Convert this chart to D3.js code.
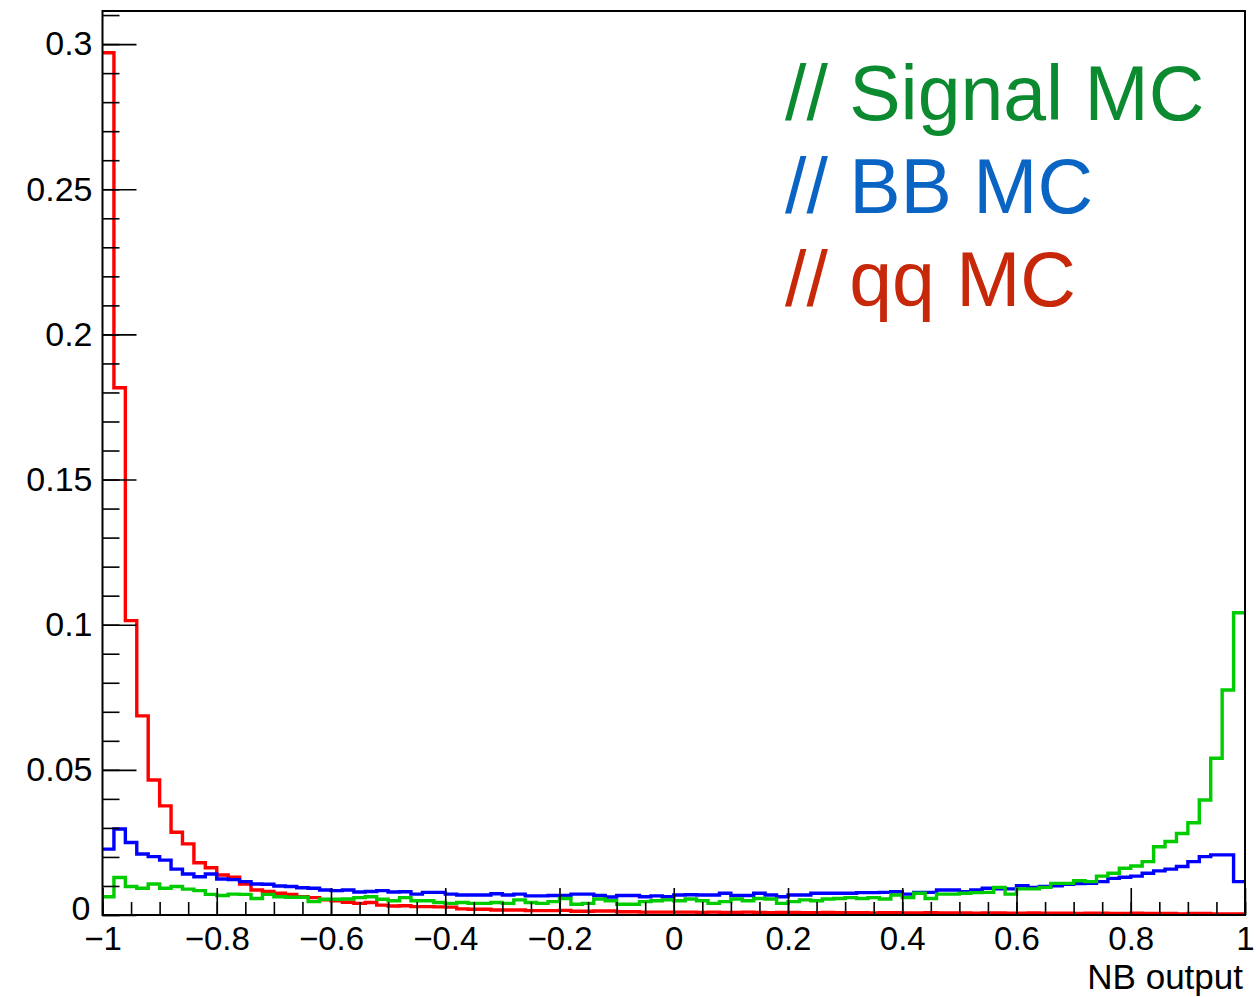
<!DOCTYPE html>
<html>
<head>
<meta charset="utf-8">
<script src="https://cdn.jsdelivr.net/npm/d3@7"></script>
<style>
  html, body { margin: 0; padding: 0; background: #fff; }
  svg { display: block; }
  text { font-family: "Liberation Sans", Arial, Helvetica, sans-serif; }
</style>
</head>
<body>
<svg id="chart" width="1256" height="997"></svg>
<script>
// histogram binning: 100 bins on [-1, 1]
const xMin = -1;
const xMax = 1;
const nBins = 100;

// bin contents (normalised)
const qqMC = [
  0.2970, 0.1816, 0.1014, 0.0686, 0.0465, 0.0376, 0.0285, 0.0245, 0.0180, 0.0163,
  0.0138, 0.0130, 0.0107, 0.0086, 0.0081, 0.0075, 0.0071, 0.0063, 0.0060, 0.0052,
  0.0049, 0.0044, 0.0040, 0.0043, 0.0034, 0.0031, 0.0032, 0.0029, 0.0029, 0.0028,
  0.0027, 0.0021, 0.0020, 0.0020, 0.0017, 0.0017, 0.0017, 0.0015, 0.0015, 0.0015,
  0.0016, 0.0013, 0.0013, 0.0014, 0.0014, 0.0011, 0.0011, 0.0010, 0.0010, 0.0010,
  0.0010, 0.0010, 0.0009, 0.0010, 0.0009, 0.0009, 0.0010, 0.0009, 0.0008, 0.0009,
  0.0009, 0.0008, 0.0008, 0.0009, 0.0008, 0.0008, 0.0008, 0.0007, 0.0008, 0.0008,
  0.0007, 0.0007, 0.0008, 0.0007, 0.0007, 0.0007, 0.0006, 0.0007, 0.0007, 0.0006,
  0.0006, 0.0007, 0.0006, 0.0006, 0.0006, 0.0005, 0.0006, 0.0006, 0.0005, 0.0005,
  0.0006, 0.0005, 0.0005, 0.0005, 0.0004, 0.0005, 0.0005, 0.0004, 0.0004, 0.0004
];

const bbMC = [
  0.0227, 0.0296, 0.0250, 0.0210, 0.0201, 0.0189, 0.0158, 0.0141, 0.0132, 0.0141,
  0.0124, 0.0122, 0.0115, 0.0107, 0.0106, 0.0100, 0.0098, 0.0094, 0.0092, 0.0086,
  0.0084, 0.0086, 0.0079, 0.0081, 0.0084, 0.0079, 0.0080, 0.0072, 0.0078, 0.0078,
  0.0072, 0.0069, 0.0069, 0.0069, 0.0073, 0.0069, 0.0072, 0.0066, 0.0066, 0.0067,
  0.0067, 0.0072, 0.0072, 0.0067, 0.0062, 0.0067, 0.0067, 0.0063, 0.0066, 0.0063,
  0.0069, 0.0070, 0.0069, 0.0069, 0.0075, 0.0067, 0.0067, 0.0075, 0.0069, 0.0063,
  0.0069, 0.0069, 0.0075, 0.0075, 0.0075, 0.0075, 0.0077, 0.0077, 0.0078, 0.0080,
  0.0072, 0.0078, 0.0078, 0.0086, 0.0086, 0.0080, 0.0086, 0.0092, 0.0090, 0.0090,
  0.0101, 0.0095, 0.0098, 0.0101, 0.0106, 0.0108, 0.0109, 0.0115, 0.0126, 0.0130,
  0.0134, 0.0144, 0.0152, 0.0158, 0.0167, 0.0184, 0.0201, 0.0207, 0.0207, 0.0115
];

const signalMC = [
  0.0063, 0.0129, 0.0098, 0.0092, 0.0107, 0.0092, 0.0098, 0.0089, 0.0084, 0.0071,
  0.0067, 0.0072, 0.0071, 0.0057, 0.0071, 0.0063, 0.0061, 0.0061, 0.0046, 0.0054,
  0.0054, 0.0055, 0.0060, 0.0063, 0.0054, 0.0049, 0.0060, 0.0049, 0.0049, 0.0043,
  0.0040, 0.0043, 0.0040, 0.0040, 0.0043, 0.0040, 0.0052, 0.0043, 0.0040, 0.0046,
  0.0057, 0.0037, 0.0040, 0.0055, 0.0049, 0.0037, 0.0037, 0.0046, 0.0049, 0.0052,
  0.0049, 0.0055, 0.0049, 0.0040, 0.0046, 0.0055, 0.0049, 0.0057, 0.0055, 0.0040,
  0.0046, 0.0052, 0.0049, 0.0055, 0.0057, 0.0060, 0.0057, 0.0060, 0.0055, 0.0069,
  0.0060, 0.0075, 0.0057, 0.0072, 0.0072, 0.0075, 0.0077, 0.0078, 0.0095, 0.0072,
  0.0090, 0.0090, 0.0095, 0.0109, 0.0109, 0.0118, 0.0115, 0.0134, 0.0144, 0.0161,
  0.0169, 0.0184, 0.0235, 0.0253, 0.0281, 0.0318, 0.0396, 0.0540, 0.0775, 0.1041
];

// axis ticks and labels
const xMajorTicks = [-1, -0.8, -0.6, -0.4, -0.2, 0, 0.2, 0.4, 0.6, 0.8, 1];
const xTickLabels = ["\u22121", "\u22120.8", "\u22120.6", "\u22120.4", "\u22120.2", "0", "0.2", "0.4", "0.6", "0.8", "1"];
const yMajorTicks = [0, 0.05, 0.1, 0.15, 0.2, 0.25, 0.3];
const yTickLabels = ["0", "0.05", "0.1", "0.15", "0.2", "0.25", "0.3"];
const xTitle = "NB output";

const legendEntries = ["// Signal MC", "// BB MC", "// qq MC"];

const series = [
  { name: "qq", values: qqMC, color: "#ff0000" },
  { name: "BB", values: bbMC, color: "#0000ff" },
  { name: "signal", values: signalMC, color: "#00cc00" },
];
const legendColors = ["#0b8a30", "#0a64c4", "#c8280a"];

const margin = { top: 11, right: 11, bottom: 82, left: 102.5 };
const width = 1256;
const height = 997;
const yTop = 0.3114;

const svg = d3.select("#chart");

const x = d3.scaleLinear()
  .domain([xMin, xMax])
  .range([margin.left, width - margin.right]);

const y = d3.scaleLinear()
  .domain([0, yTop])
  .range([height - margin.bottom, margin.top]);

const binWidth = (xMax - xMin) / nBins;
const edges = d3.range(nBins + 1).map((i) => xMin + i * binWidth);

svg.append("clipPath").attr("id", "plot-clip")
  .append("rect")
  .attr("x", x(xMin)).attr("y", y(yTop))
  .attr("width", x(xMax) - x(xMin))
  .attr("height", y(0) - y(yTop));

// histograms as step outlines
const line = d3.line()
  .x((d) => x(d[0]))
  .y((d) => y(d[1]))
  .curve(d3.curveStepAfter);

svg.append("g")
  .attr("clip-path", "url(#plot-clip)")
  .selectAll("path")
  .data(series)
  .join("path")
  .attr("fill", "none")
  .attr("stroke", (d) => d.color)
  .attr("stroke-width", 3.4)
  .attr("d", (d) => {
    const pts = d.values.map((v, i) => [edges[i], v]);
    pts.push([edges[nBins], d.values[nBins - 1]]);
    return line(pts);
  });

// frame
svg.append("rect")
  .attr("x", x(xMin)).attr("y", y(yTop))
  .attr("width", x(xMax) - x(xMin))
  .attr("height", y(0) - y(yTop))
  .attr("fill", "none")
  .attr("stroke", "#000")
  .attr("stroke-width", 2);

// ticks pointing inside, ROOT style
const yMinorTicks = d3.range(0, 32).map((i) => i / 100).filter((v) => v <= yTop);
const xMinorTicks = d3.range(0, 41).map((i) => xMin + i * 0.05);

function tickAxis(axis, transform) {
  const g = svg.append("g").attr("transform", transform).call(axis);
  g.select(".domain").remove();
  g.selectAll(".tick line").attr("stroke", "#000").attr("stroke-width", 1.6);
  return g;
}

tickAxis(d3.axisRight(y).tickValues(yMinorTicks).tickSize(17).tickFormat(""), `translate(${x(xMin)},0)`);
tickAxis(d3.axisRight(y).tickValues(yMajorTicks).tickSize(34).tickFormat(""), `translate(${x(xMin)},0)`);
tickAxis(d3.axisTop(x).tickValues(xMinorTicks).tickSize(13).tickFormat(""), `translate(0,${y(0)})`);
tickAxis(d3.axisTop(x).tickValues(xMajorTicks).tickSize(27).tickFormat(""), `translate(0,${y(0)})`);

// tick labels
const yLabels = svg.append("g")
  .attr("transform", `translate(${x(xMin)},0)`)
  .call(d3.axisLeft(y).tickValues(yMajorTicks).tickSize(0).tickPadding(10)
    .tickFormat((d, i) => yTickLabels[i]));
yLabels.select(".domain").remove();
yLabels.selectAll("text")
  .attr("fill", "#000")
  .style("font-size", "34px")
  .style("font-family", "'Liberation Sans', Arial, sans-serif");
// the zero label sits a touch higher/left so it clears the "−1" below it
yLabels.selectAll(".tick").filter((d) => d === 0).select("text")
  .attr("dy", "0.12em")
  .attr("x", -12);

const xLabels = svg.append("g")
  .attr("transform", `translate(0,${y(0)})`)
  .call(d3.axisBottom(x).tickValues(xMajorTicks).tickSize(0).tickPadding(12)
    .tickFormat((d, i) => xTickLabels[i]));
xLabels.select(".domain").remove();
xLabels.selectAll("text")
  .attr("fill", "#000")
  .style("font-size", "33px")
  .style("font-family", "'Liberation Sans', Arial, sans-serif");

svg.append("text")
  .attr("x", 1243)
  .attr("y", 989)
  .attr("text-anchor", "end")
  .style("font-size", "35px")
  .text(xTitle);

// legend text
svg.append("g")
  .selectAll("text")
  .data(legendEntries)
  .join("text")
  .attr("x", 785)
  .attr("y", (d, i) => 120 + i * 93)
  .attr("fill", (d, i) => legendColors[i])
  .style("font-size", "77px")
  .text((d) => d);
</script>
</body>
</html>
